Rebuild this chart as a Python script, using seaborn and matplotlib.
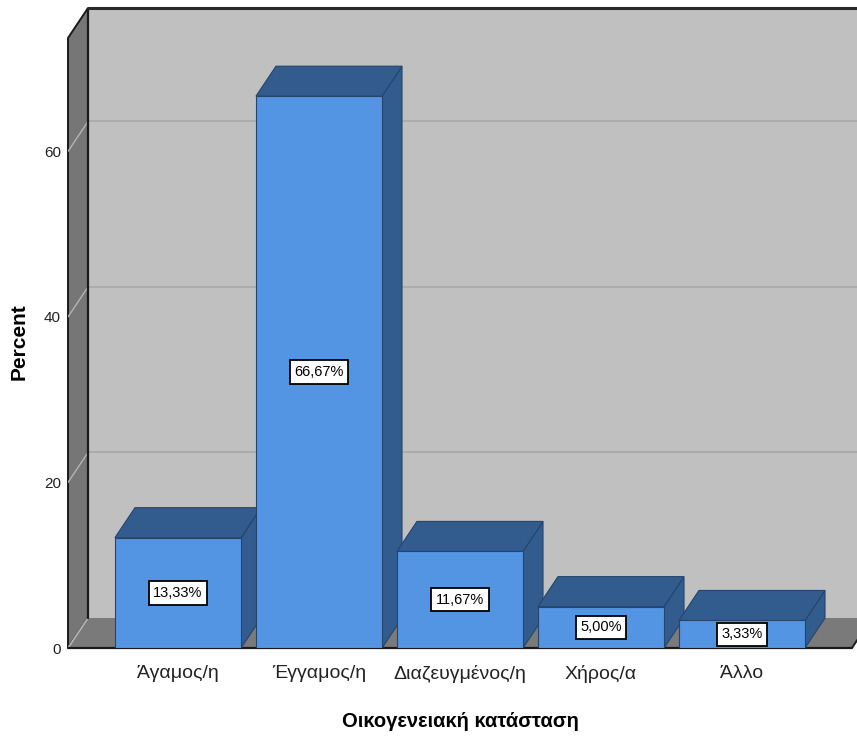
import matplotlib
matplotlib.use("Agg")
import matplotlib.pyplot as plt
from matplotlib import font_manager
from matplotlib.patches import Polygon
import seaborn as sns
import pandas as pd

categories = ["Άγαμος/η", "Έγγαμος/η", "Διαζευγμένος/η", "Χήρος/α", "Άλλο"]
percents = [13.33, 66.67, 11.67, 5.00, 3.33]
y_ticks = [0, 20, 40, 60]
x_title = "Οικογενειακή κατάσταση"
y_title = "Percent"

df = pd.DataFrame({"category": categories, "percent": percents})

sns.set_theme(style="white")
installed = {f.name for f in font_manager.fontManager.ttflist}
narrow = "Liberation Sans Narrow" in installed
FONT = "Liberation Sans Narrow" if narrow else "Liberation Sans"
k = 1.15 if narrow else 1.0
plt.rcParams["font.family"] = [FONT, "DejaVu Sans"]

FRONT = "#5395e2"
SHADE = "#335c8e"
EDGE = "#23456e"
WALL = "#c0c0c0"
SIDEWALL = "#767676"

fig = plt.figure(figsize=(8.57, 7.40), dpi=100)
W, H = 857, 740
x0_px, y0_px, top_px = 68, 648, 8
ax = fig.add_axes([x0_px / W, (H - y0_px) / H, (W - x0_px) / W, (y0_px - top_px) / H])

slot = 141.0                 # pixels per category
ppu = 8.28                   # pixels per percent
XL = -0.78
XR = XL + (W - x0_px) / slot
XEND = 4.78                  # right end of the floor's front edge
DX = 20 / slot               # depth offset, horizontal
DY = 30 / ppu                # depth offset, vertical
YTOP = 73.7

# front faces of the bars
sns.barplot(data=df, x="category", y="percent", order=categories, color=FRONT,
            saturation=1, width=0.894, edgecolor=EDGE, linewidth=0.8, ax=ax, zorder=3)
ax.set_xlim(XL, XR)
ax.set_ylim(0, YTOP + DY)

# back wall
ax.add_patch(Polygon([(XL + DX, DY), (XEND + DX + 1, DY), (XEND + DX + 1, YTOP + DY),
                      (XL + DX, YTOP + DY)], closed=True, fc=WALL, ec="none", zorder=0))
for v in y_ticks[1:]:
    ax.plot([XL + DX, XEND + DX + 1], [v + DY, v + DY], color="#a9a9a9", lw=1.2, zorder=0.5)
ax.plot([XL + DX, XEND + DX + 1], [YTOP + DY, YTOP + DY], color="#2a2a2a", lw=2.2,
        zorder=1.5, clip_on=False)
ax.plot([XL + DX, XL + DX], [DY, YTOP + DY], color="#1a1a1a", lw=1.6, zorder=1.2)

# left wall
ax.add_patch(Polygon([(XL, 0), (XL + DX, DY), (XL + DX, YTOP + DY), (XL, YTOP)],
                     closed=True, fc=SIDEWALL, ec="#1a1a1a", lw=1.4, zorder=1, clip_on=False))
for v in y_ticks:
    ax.plot([XL, XL + DX], [v, v + DY], color="#b4b4b4", lw=1.0, zorder=1.1)

# floor
ax.add_patch(Polygon([(XL, 0), (XEND, 0), (XEND + DX, DY), (XL + DX, DY)],
                     closed=True, fc="#7a7a7a", ec="none", zorder=1))
ax.plot([XL, XEND], [0, 0], color="#1a1a1a", lw=1.6, zorder=1.3, clip_on=False)
ax.plot([XEND, XEND + DX], [0, DY], color="#1a1a1a", lw=1.4, zorder=1.3)
ax.plot([XL, XL + DX], [0, DY], color="#b4b4b4", lw=1.0, zorder=1.1)

# top and side faces, built from each drawn bar
for patch, val in zip(ax.patches[:len(percents)], percents):
    xl = patch.get_x()
    xr = xl + patch.get_width()
    h = patch.get_height()
    ax.add_patch(Polygon([(xr, 0), (xr + DX, DY), (xr + DX, h + DY), (xr, h)],
                         closed=True, fc=SHADE, ec=EDGE, lw=0.8, zorder=2))
    ax.add_patch(Polygon([(xl, h), (xr, h), (xr + DX, h + DY), (xl + DX, h + DY)],
                         closed=True, fc=SHADE, ec=EDGE, lw=0.8, zorder=2))
    ax.text(xl + patch.get_width() / 2, h / 2, f"{val:.2f}%".replace(".", ","),
            ha="center", va="center", fontsize=10.5 * k, color="black", zorder=5,
            bbox=dict(boxstyle="square,pad=0.32", fc="white", ec="black", lw=1.3))

for s in ax.spines.values():
    s.set_visible(False)
ax.set_yticks(y_ticks)
ax.set_yticklabels([str(t) for t in y_ticks])
ax.tick_params(axis="y", length=0, pad=5, labelsize=11 * k, colors="#222222")
ax.tick_params(axis="x", length=0, pad=12, labelsize=14 * k, colors="#222222")
ax.set_xlabel(x_title, fontsize=14.5 * k, fontweight="bold", color="black")
ax.set_ylabel(y_title, fontsize=15 * k, fontweight="bold", color="black")
ax.xaxis.set_label_coords((460 - x0_px) / (W - x0_px), -(712 - y0_px) / (y0_px - top_px))
ax.yaxis.set_label_coords((29 - x0_px) / (W - x0_px), (y0_px - 342) / (y0_px - top_px))
ax.grid(False)
ax.set_facecolor("none")

fig.savefig("out.png", dpi=100, facecolor="white")
